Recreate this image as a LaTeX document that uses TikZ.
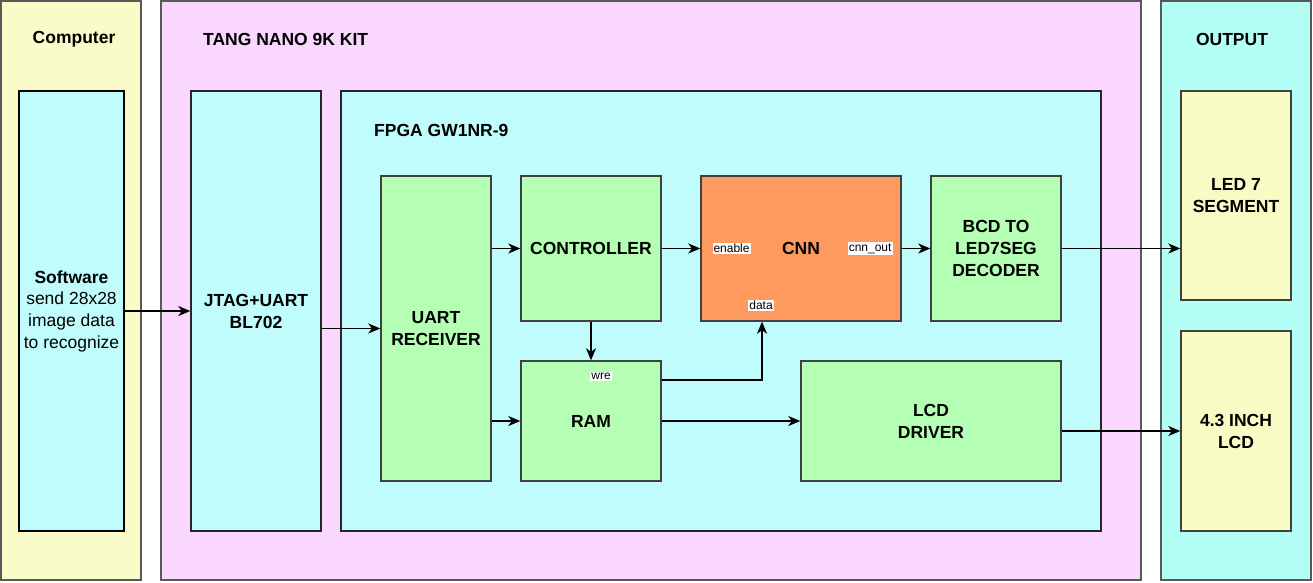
\documentclass[tikz,border=0pt]{standalone}
\usepackage{fontspec}
\setmainfont{Liberation Sans}
\usetikzlibrary{arrows.meta,positioning}
\definecolor{pcYellow}{RGB}{249,252,200}
\definecolor{kitPink}{RGB}{250,215,254}
\definecolor{chipCyan}{RGB}{192,252,252}
\definecolor{outCyan}{RGB}{180,255,245}
\definecolor{blkGreen}{RGB}{180,255,180}
\definecolor{cnnOrange}{RGB}{255,154,94}
\definecolor{devYellow}{RGB}{247,252,196}
\tikzset{
  box/.style={draw=black!75, line width=1.4pt, inner sep=0pt, align=center,
    font=\fontsize{17.5}{22}\selectfont\bfseries},
  title/.style={inner sep=0pt, font=\fontsize{17.5}{22}\selectfont\bfseries},
  port/.style={fill=white, inner sep=1pt, font=\fontsize{12}{14}\selectfont},
  arr/.style={line width=1.7pt, -{Stealth[length=12pt,width=10pt,inset=3.5pt]}}
}
\begin{document}
\begin{tikzpicture}[x=1pt, y=-1pt]
% TikZ diagram of the digit recognizer
\useasboundingbox (0,0) rectangle (1313,582);
% Outer frames
\node[box, fill=pcYellow, draw=black!65, minimum width=140pt, minimum height=579pt] (computer) at (71,290.5) {};
\node[box, fill=kitPink, draw=black!65, minimum width=980pt, minimum height=579pt] (kit) at (651,290.5) {};
\node[box, fill=outCyan, draw=black!65, minimum width=150pt, minimum height=579pt] (output) at (1236,290.5) {};
\node[title] (computerlbl) at (74,39) {Computer};
\node[title, anchor=west] (kitlbl) at (203,39) {TANG NANO 9K KIT};
\node[title] (outputlbl) at (1232,39) {OUTPUT};
% Boards
\node[box, fill=chipCyan, draw=black, minimum width=105pt, minimum height=440pt] (software) at (71.5,311)
  {Software\\[-1pt]\mdseries send 28x28\\\mdseries image data\\\mdseries to recognize};
\node[box, fill=chipCyan, draw=black!85, minimum width=130pt, minimum height=440pt] (jtag) at (256,311) {JTAG+UART\\BL702};
\node[box, fill=chipCyan, draw=black!85, minimum width=760pt, minimum height=440pt] (fpga) at (721,311) {};
\node[title, anchor=west] (fpgalbl) at (374,130) {FPGA GW1NR-9};
% Logic blocks
\node[box, fill=blkGreen, minimum width=110pt, minimum height=305pt] (uart) at (436,328.5) {UART\\RECEIVER};
\node[box, fill=blkGreen, minimum width=140pt, minimum height=145pt] (ctrl) at (591,248.5) {CONTROLLER};
\node[box, fill=cnnOrange, minimum width=200pt, minimum height=145pt] (cnn) at (801,248.5) {CNN};
\node[box, fill=blkGreen, minimum width=130pt, minimum height=145pt] (bcd) at (996,248.5) {BCD TO\\LED7SEG\\DECODER};
\node[box, fill=blkGreen, minimum width=140pt, minimum height=120pt] (ram) at (591,421) {RAM};
\node[box, fill=blkGreen, minimum width=260pt, minimum height=120pt] (lcddrv) at (931,421) {LCD\\DRIVER};
% Output devices
\node[box, fill=devYellow, minimum width=110pt, minimum height=209pt] (led) at (1236,195.5) {LED 7\\SEGMENT};
\node[box, fill=devYellow, minimum width=110pt, minimum height=200pt] (lcd) at (1236,431) {4.3 INCH\\LCD};
% Connectors
\draw[arr] (software.east) -- (jtag.west);
\draw[arr] (jtag.east |- uart.west) -- (uart.west);
\draw[arr] (uart.east |- ctrl.west) -- (ctrl.west);
\draw[arr] (uart.east |- ram.west) -- (ram.west);
\draw[arr] (ctrl.east) -- (cnn.west);
\draw[arr] (cnn.east) -- (bcd.west);
\draw[arr] (ctrl.south) -- (ram.north);
\draw[arr] ([yshift=-20pt]ram.north east) -| ([xshift=-39pt]cnn.south);
\draw[arr] (ram.east) -- (lcddrv.west);
\draw[arr] (bcd.east) -- (bcd.east -| led.west);
\draw[arr] (lcddrv.east |- lcd.west) -- (lcd.west);
% Port labels
\node[port, anchor=west] (enablelbl) at ([xshift=12pt]cnn.west) {enable};
\node[port, anchor=east] (cnnoutlbl) at ([xshift=-9pt]cnn.east) {cnn\_out};
\node[port] (datalbl) at ([xshift=-40pt,yshift=16pt]cnn.south) {data};
\node[port] (wrelbl) at ([xshift=10pt,yshift=-16pt]ram.north) {wre};
\end{tikzpicture}
\end{document}
